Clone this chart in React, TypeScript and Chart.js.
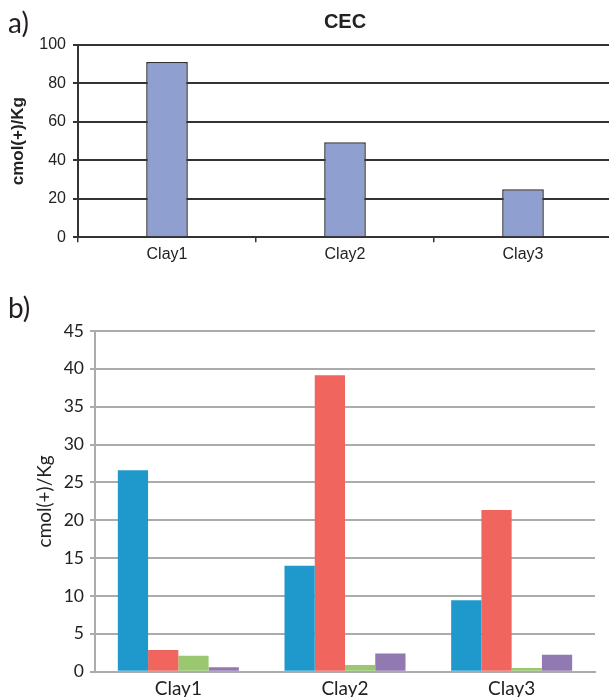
import React, { useEffect, useRef } from "react";
import { Chart, registerables } from "chart.js";
Chart.register(...registerables);

const categories = ["Clay1", "Clay2", "Clay3"];
const cecValues = [91.2, 49.4, 25.0];
const cecTicks = { min: 0, max: 100, step: 20 };

const seriesNames = ["Series 1", "Series 2", "Series 3", "Series 4"];
const series1 = [26.6, 14.0, 9.45];
const series2 = [2.85, 39.15, 21.35];
const series3 = [2.1, 0.9, 0.5];
const series4 = [0.6, 2.4, 2.25];
const ionTicks = { min: 0, max: 45, step: 5 };

const seriesColors = ["#1F98CB", "#F0665E", "#9AC76F", "#9179B2"];

const yTitle = "cmol(+)/Kg";

function TopChart() {
  const ref = useRef<HTMLCanvasElement>(null);
  useEffect(() => {
    const dark = "#333333";
    const chart = new Chart(ref.current!, {
      type: "bar",
      data: {
        labels: categories,
        datasets: [
          {
            label: "CEC",
            data: cecValues,
            backgroundColor: "#8E9FD0",
            borderColor: dark,
            borderWidth: 1.5,
            categoryPercentage: 0.234,
            barPercentage: 1,
          },
        ],
      },
      options: {
        responsive: false,
        animation: false,
        devicePixelRatio: 1,
        layout: { padding: { top: 0, right: 2, left: 0, bottom: 0 } },
        plugins: {
          legend: { display: false },
          tooltip: { enabled: false },
          title: {
            display: true,
            text: "CEC",
            fullSize: false,
            color: "#222",
            font: { family: "'Liberation Sans', Arial, sans-serif", size: 20, weight: "bold", lineHeight: 1.2 },
            padding: { top: 10, bottom: 11 },
          },
        },
        scales: {
          x: {
            grid: { display: true, offset: true, drawOnChartArea: false, drawTicks: true, tickLength: 5, color: dark, lineWidth: 1.5 },
            border: { display: true, color: dark, width: 2 },
            ticks: { color: "#222", padding: 3, font: { family: "'Liberation Sans', Arial, sans-serif", size: 16 } },
            afterFit: (s: any) => { s.height = 42.7; },
          },
          y: {
            min: cecTicks.min,
            max: cecTicks.max,
            ticks: { stepSize: cecTicks.step, color: "#222", padding: 7, font: { family: "'Liberation Sans', Arial, sans-serif", size: 16 } },
            grid: { color: dark, lineWidth: 2, tickLength: 5 },
            border: { display: true, color: dark, width: 2 },
            title: {
              display: true,
              text: yTitle,
              color: "#222",
              font: { family: "'Liberation Sans', Arial, sans-serif", size: 17, weight: "bold", lineHeight: 1.2 },
              padding: { top: 8, bottom: 0 },
            },
            afterFit: (s: any) => { s.width = 78; },
          },
        },
      },
    });
    return () => chart.destroy();
  }, []);
  return (
    <canvas
      ref={ref}
      width={614}
      height={280}
      style={{ position: "absolute", left: 0, top: 0, width: 614, height: 280 }}
    />
  );
}

function BottomChart() {
  const ref = useRef<HTMLCanvasElement>(null);
  useEffect(() => {
    const gray = "#ABABAB";
    const font = "Lato, 'Open Sans', sans-serif";
    const all = [series1, series2, series3, series4];
    const chart = new Chart(ref.current!, {
      type: "bar",
      data: {
        labels: categories,
        datasets: all.map((d, i) => ({
          label: seriesNames[i],
          data: d,
          backgroundColor: seriesColors[i],
          borderWidth: 0,
          categoryPercentage: 0.726,
          barPercentage: 1,
        })),
      },
      options: {
        responsive: false,
        animation: false,
        devicePixelRatio: 1,
        layout: { padding: { top: 51, right: 14, left: 0, bottom: 0 } },
        plugins: {
          legend: { display: false },
          tooltip: { enabled: false },
        },
        scales: {
          x: {
            grid: { display: true, drawOnChartArea: false, drawTicks: false, color: gray },
            border: { display: true, color: gray, width: 2 },
            ticks: { color: "#222", padding: 6, font: { family: font, size: 19 } },
            afterFit: (s: any) => { s.height = 25.3; },
          },
          y: {
            min: ionTicks.min,
            max: ionTicks.max,
            ticks: { stepSize: ionTicks.step, color: "#222", padding: 6, font: { family: font, size: 17.5 } },
            grid: { color: gray, lineWidth: 2, tickLength: 5 },
            border: { display: true, color: gray, width: 2 },
            title: {
              display: true,
              text: yTitle,
              color: "#222",
              font: { family: font, size: 19, lineHeight: 1.2 },
              padding: { top: 33.3, bottom: 0 },
            },
            afterFit: (s: any) => { s.width = 95; },
          },
        },
      },
    });
    return () => chart.destroy();
  }, []);
  return (
    <canvas
      ref={ref}
      width={609}
      height={417}
      style={{ position: "absolute", left: 0, top: 280, width: 609, height: 417 }}
    />
  );
}

export default function App() {
  const labelStyle: React.CSSProperties = {
    position: "absolute",
    fontFamily: "Lato, 'Open Sans', sans-serif",
    fontSize: 28,
    lineHeight: "28px",
    color: "#231F20",
    left: 8,
  };
  return (
    <div
      style={{
        position: "absolute",
        left: 0,
        top: 0,
        width: 609,
        height: 697,
        overflow: "hidden",
        background: "#fff",
      }}
    >
      <TopChart />
      <BottomChart />
      <div style={{ ...labelStyle, top: 8 }}>a)</div>
      <div style={{ ...labelStyle, top: 293 }}>b)</div>
    </div>
  );
}
